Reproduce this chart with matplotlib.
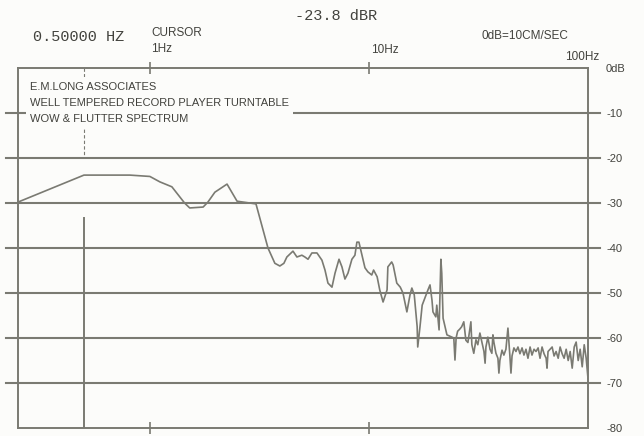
"""Wow & flutter spectrum, E.M. Long turntable measurement (re-drawn)."""
import matplotlib
matplotlib.use('Agg')

import matplotlib.pyplot as plt
from matplotlib.ticker import NullLocator
from matplotlib.transforms import blended_transform_factory

BG = '#fcfcfa'
LINE = '#7a7a72'
TEXT = '#42423d'
SANS = ['Liberation Sans', 'DejaVu Sans']
MONO = ['Liberation Mono', 'DejaVu Sans Mono']

# spectrum (Hz, dB re 10 cm/s)
FREQ = [0.25, 0.5, 0.81, 1.0, 1.11, 1.26, 1.44, 1.52, 1.75, 1.84, 1.98,
        2.25, 2.50, 2.86, 3.05, 3.46, 3.72, 3.92, 4.09, 4.22, 4.50, 4.69,
        4.94, 5.10, 5.27, 5.49, 5.79, 6.10, 6.30, 6.50, 6.78, 7.00, 7.30,
        7.53, 7.77, 8.02, 8.36, 8.63, 8.81, 9.00, 9.29, 9.59, 9.89, 10.3,
        10.5, 10.9, 11.2, 11.6, 12.1, 12.2, 12.7, 12.9, 13.4, 13.9, 14.3,
        14.9, 15.4, 15.7, 16.1, 16.6, 16.7, 17.1, 17.5, 18.0, 18.6, 19.0,
        19.4, 19.6, 20.2, 20.4, 20.9, 21.3, 21.5, 21.8, 22.7, 23.9,
        24.4, 24.7, 25.0, 25.4, 26.0, 26.5, 27.1, 27.7, 28.3, 28.9, 29.2,
        29.5, 30.1, 30.8, 31.4, 32.1, 32.8, 33.5, 33.9, 34.2, 34.9, 35.7,
        36.4, 36.8, 37.2, 38.0, 38.8, 39.2, 39.6, 40.5, 41.3, 42.2, 43.1,
        44.0, 44.5, 45.0, 45.9, 46.9, 47.9, 48.9, 50.0, 51.0, 52.1, 53.2,
        54.4, 55.5, 56.7, 57.9, 59.2, 60.4, 61.7, 63.0, 64.4, 65.0, 65.7,
        67.1, 68.6, 70.0, 71.5, 73.1, 74.6, 76.2, 77.8, 79.5, 81.2, 82.9,
        84.7, 86.5, 88.3, 90.2, 92.1, 94.1, 96.1, 98.1, 100.0]
LEVEL = [-29.8, -23.8, -23.8, -24.1, -25.3, -26.4, -30.0, -31.1, -30.9,
         -29.8, -27.6, -25.8, -29.6, -30.0, -30.2, -40.0, -43.4, -44.0,
         -43.4, -42.0, -40.7, -42.0, -41.6, -42.0, -42.5, -41.1, -41.1,
         -42.7, -44.9, -47.8, -48.7, -45.6, -42.5, -44.2, -46.9, -45.6,
         -42.5, -41.6, -38.7, -38.7, -41.6, -44.4, -45.3, -46.0, -44.9,
         -46.4, -49.3, -52.0, -49.3, -44.2, -43.1, -43.8, -47.8, -48.7,
         -50.0, -54.2, -50.4, -48.9, -50.4, -57.5, -62.0, -57.5, -52.7,
         -51.1, -49.3, -48.2, -51.6, -54.2, -55.3, -52.7, -58.2, -42.5,
         -45.6, -55.6, -59.3, -59.8,
         -60.0, -64.9, -60.0, -58.5, -58.0, -57.5, -56.4, -60.5, -61.0,
         -58.0, -56.4, -61.5, -63.4, -60.4, -61.5, -58.9, -61.0, -63.0,
         -65.6, -62.0, -59.8, -62.5, -63.4, -59.3, -61.0, -63.4, -64.5,
         -67.8, -65.0, -62.7, -63.8, -62.5, -57.8, -64.0, -67.8, -64.0,
         -62.2, -63.0, -62.0, -63.5, -62.2, -63.8, -62.5, -64.5, -62.0,
         -63.8, -62.5, -63.0, -62.2, -64.5, -62.0, -63.5, -64.5, -66.7,
         -63.0, -62.5, -62.0, -64.0, -63.0, -64.5, -62.0, -63.5, -64.5,
         -62.5, -65.0, -63.0, -66.7, -62.0, -60.9, -65.0, -62.5, -66.4,
         -61.5, -64.5, -69.0]

CURSOR_F = 0.5
CURSOR_DB = -23.8
GRID_DB = [-10, -20, -30, -40, -50, -60, -70]
DB_TICKS = [0, -10, -20, -30, -40, -50, -60, -70, -80]
DB_LABELS = ['0dB', '-10', '-20', '-30', '-40', '-50', '-60', '-70', '-80']
F_TICKS = [1, 10, 100]
F_LABELS = ['1Hz', '10Hz', '100Hz']

fig = plt.figure(figsize=(6.44, 4.36), dpi=100, facecolor=BG)
ax = fig.add_axes([18 / 644, 8 / 436, 570 / 644, 360 / 436])
ax.set_facecolor(BG)
ax.set_xscale('log')
ax.set_xlim(0.25, 100)
ax.set_ylim(-80, 0)
for s in ax.spines.values():
    s.set_color(LINE)
    s.set_linewidth(1.4)

ax.set_xticks([1, 10])
ax.xaxis.set_minor_locator(NullLocator())
ax.tick_params(axis='x', which='both', top=True, bottom=True,
               direction='inout', length=8, width=1.2, color=LINE,
               labelbottom=False, labeltop=False)
ax.yaxis.tick_right()
ax.set_yticks(DB_TICKS, DB_LABELS)
ax.tick_params(axis='y', length=0, pad=13, labelsize=8, labelcolor=TEXT)
for lab in ax.get_yticklabels():
    lab.set_family(SANS)

# horizontal rules run a little past the frame on both sides
xt = blended_transform_factory(ax.transAxes, ax.transData)
for db in GRID_DB:
    ax.plot([-0.021, 1.021], [db, db], transform=xt, clip_on=False,
            color=LINE, lw=1.5, zorder=1)

# cursor: dashed above the trace, solid below it
ax.plot([CURSOR_F, CURSOR_F], [0, -20], color=LINE, lw=0.8,
        ls=(0, (3, 2)), zorder=2)
ax.plot([CURSOR_F, CURSOR_F], [-33.3, -80], color=LINE, lw=1.4, zorder=2)

ax.plot(FREQ, LEVEL, color=LINE, lw=1.2, zorder=3)

ax.text(0.021, 0.962,
        'E.M.LONG ASSOCIATES\nWELL TEMPERED RECORD PLAYER TURNTABLE\n'
        'WOW & FLUTTER SPECTRUM',
        transform=ax.transAxes, ha='left', va='top', fontsize=8,
        family=SANS, color=TEXT, linespacing=1.8, zorder=4,
        bbox=dict(facecolor=BG, edgecolor='none', pad=3))

# frequency labels above the frame
yt = blended_transform_factory(ax.transData, fig.transFigure)
ax.text(F_TICKS[0] * 1.01, 1 - 49 / 436, F_LABELS[0], transform=yt,
        ha='left', va='center', fontsize=8.5, family=SANS, color=TEXT)
ax.text(F_TICKS[1] * 1.02, 1 - 50 / 436, F_LABELS[1], transform=yt,
        ha='left', va='center', fontsize=8.5, family=SANS, color=TEXT)
ax.text(F_TICKS[2] * 1.13, 1 - 57 / 436, F_LABELS[2], transform=yt,
        ha='right', va='center', fontsize=8.5, family=SANS, color=TEXT)

# readouts
fig.text(336 / 644, 1 - 16 / 436, f'{CURSOR_DB:.1f} dBR', ha='center',
         va='center', fontsize=11, family=MONO, color=TEXT)
fig.text(33 / 644, 1 - 37 / 436, f'{CURSOR_F:.5f} HZ', ha='left',
         va='center', fontsize=11, family=MONO, color=TEXT)
fig.text(151 / 644, 1 - 33 / 436, 'CURSOR', ha='left', va='center',
         fontsize=8.5, family=SANS, color=TEXT)
fig.text(481 / 644, 1 - 36 / 436, '0dB=10CM/SEC', ha='left', va='center',
         fontsize=8.5, family=SANS, color=TEXT)

fig.savefig('out.png', dpi=100, facecolor=BG)
